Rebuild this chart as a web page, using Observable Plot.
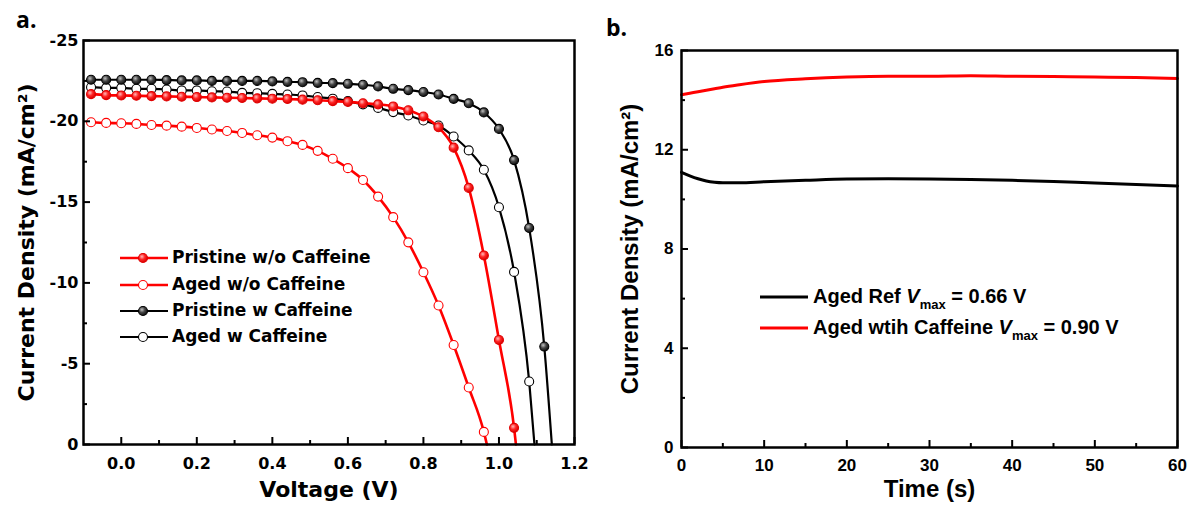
<!DOCTYPE html>
<html><head><meta charset="utf-8">
<script src="https://cdn.jsdelivr.net/npm/d3@7"></script>
<script src="https://cdn.jsdelivr.net/npm/@observablehq/plot@0.6"></script>
<style>
html,body{margin:0;padding:0;background:#fff;}
#wrap{position:relative;width:1188px;height:506px;overflow:hidden;background:#fff;}
.panel{position:absolute;top:0;}
.tag{position:absolute;font-family:"Open Sans",sans-serif;font-weight:700;font-size:23px;line-height:1;color:#000;}
.legend{position:absolute;color:#000;}
.row{display:flex;align-items:center;white-space:nowrap;}
.row svg{flex:none;}
</style></head><body><div id="wrap"></div>
<script>
// ---------- Panel a data ----------
const volts = [-0.08,-0.04,0,0.04,0.08,0.12,0.16,0.2,0.24,0.28,0.32,0.36,0.4,0.44,0.48,0.52,0.56,0.6,0.64,0.68,0.72,0.76,0.8,0.84,0.88,0.92,0.96,1.0,1.04,1.08,1.12];
const seriesA = ["Pristine w/o Caffeine","Aged w/o Caffeine","Pristine w Caffeine","Aged w Caffeine"];
const jPristineNo = [-21.68,-21.62,-21.6,-21.58,-21.56,-21.54,-21.52,-21.5,-21.48,-21.46,-21.44,-21.42,-21.4,-21.38,-21.34,-21.3,-21.25,-21.2,-21.12,-21.05,-20.92,-20.68,-20.3,-19.63,-18.37,-15.88,-11.7,-6.47,-1.03];
const jAgedNo = [-19.94,-19.9,-19.88,-19.84,-19.77,-19.73,-19.67,-19.59,-19.49,-19.4,-19.28,-19.14,-18.99,-18.77,-18.54,-18.17,-17.68,-17.1,-16.37,-15.34,-14.07,-12.51,-10.66,-8.6,-6.16,-3.53,-0.78];
const jPristineW = [-22.57,-22.57,-22.57,-22.57,-22.57,-22.55,-22.53,-22.53,-22.5,-22.5,-22.5,-22.5,-22.47,-22.44,-22.42,-22.38,-22.36,-22.32,-22.26,-22.16,-22.01,-21.93,-21.81,-21.66,-21.39,-21.12,-20.55,-19.53,-17.6,-13.4,-6.06];
const jAgedW = [-22.11,-22.07,-22.07,-22.01,-22.01,-21.97,-21.91,-21.91,-21.86,-21.84,-21.76,-21.74,-21.7,-21.66,-21.6,-21.5,-21.4,-21.25,-21.05,-20.83,-20.57,-20.36,-20.05,-19.74,-19.06,-18.2,-17.0,-14.68,-10.68,-3.9];
const vocA = [1.045, 0.968, 1.14, 1.094];
const xTicksA = [0,0.2,0.4,0.6,0.8,1.0,1.2];
const xMinorA = [0.1,0.3,0.5,0.7,0.9,1.1];
const yTicksA = [0,-5,-10,-15,-20,-25];
const yMinorA = [-2.5,-7.5,-12.5,-17.5,-22.5];
const titleXA = "Voltage (V)";
const titleYA = "Current Density (mA/cm²)";

// ---------- Panel b data ----------
const timeB = [0,1,2,3,4,5,7,10,15,20,25,30,35,40,45,50,55,60];
const jRef  = [11.09,10.95,10.83,10.74,10.69,10.67,10.67,10.71,10.77,10.82,10.83,10.82,10.8,10.77,10.72,10.66,10.6,10.54];
const jCaff = [14.22,14.28,14.34,14.4,14.46,14.52,14.62,14.75,14.86,14.93,14.96,14.96,14.98,14.96,14.95,14.93,14.91,14.87];
const seriesB = ["Aged Ref","Aged wtih Caffeine"];
const vmaxB = ["0.66","0.90"];
const xTicksB = [0,10,20,30,40,50,60];
const xMinorB = [5,15,25,35,45,55];
const yTicksB = [0,4,8,12,16];
const yMinorB = [2,6,10,14];
const titleXB = "Time (s)";
const titleYB = "Current Density (mA/cm²)";

// ---------- styles ----------
const styleA = [
  {stroke:"#ff0000", sw:2.6, fill:"url(#gRed)", dot:"#e00000"},
  {stroke:"#ff0000", sw:2.6, fill:"#ffffff", dot:"#ff0000"},
  {stroke:"#000000", sw:2.2, fill:"url(#gBlack)", dot:"#000000"},
  {stroke:"#000000", sw:2.2, fill:"#ffffff", dot:"#000000"}
];
const styleB = [{stroke:"#000000"},{stroke:"#ff0000"}];
const fontA = "'DejaVu Sans', sans-serif";
const fontB = "'Liberation Sans', Arial, sans-serif";
const MAJ = 7, MIN = 4;

const layoutA = {width: 600, height: 506, marginLeft: 83, marginRight: 26, marginTop: 40, marginBottom: 62};
const layoutB = {width: 588, height: 506, marginLeft: 81, marginRight: 11, marginTop: 50, marginBottom: 59};

const wrap = d3.select("#wrap");

// gradient defs (shared by the document)
const defs = wrap.append("svg").attr("width",0).attr("height",0).style("position","absolute").append("defs");
function grad(id, c0, c1, c2){
  const g = defs.append("radialGradient").attr("id",id).attr("cx","0.38").attr("cy","0.35").attr("r","0.65");
  g.append("stop").attr("offset","0").attr("stop-color",c0);
  g.append("stop").attr("offset","0.5").attr("stop-color",c1);
  g.append("stop").attr("offset","1").attr("stop-color",c2);
}
grad("gRed","#ffb8b8","#ff2525","#d80000");
grad("gBlack","#c0c0c0","#454545","#101010");

// inward tick marks: frame-spanning rules inset so only a short piece at the axis remains
function ticksX(vals, size, L){
  const h = L.height - L.marginTop - L.marginBottom;
  return Plot.ruleX(vals, {x: d => d, insetTop: h - size, stroke: "black", strokeWidth: 2});
}
function ticksY(vals, size, L){
  const w = L.width - L.marginLeft - L.marginRight;
  return Plot.ruleY(vals, {y: d => d, insetRight: w - size, stroke: "black", strokeWidth: 2});
}

// ---------- Panel a ----------
const valuesA = [jPristineNo, jAgedNo, jPristineW, jAgedW];
const ptsA = seriesA.map((s,i) => valuesA[i].map((j,k) => ({s, v: volts[k], j})));
const linesA = seriesA.map((s,i) => [...ptsA[i], {s, v: vocA[i], j: 0}]);
const orderA = [3,2,1,0];

const plotA = Plot.plot({
  ...layoutA,
  style: {fontFamily: fontA, background: "transparent", color: "black", overflow: "visible"},
  x: {domain: [-0.1, 1.2]},
  y: {domain: [0, -25]},
  marks: [
    ...orderA.flatMap(i => [
      Plot.line(linesA[i], {x: "v", y: "j", stroke: styleA[i].stroke, strokeWidth: styleA[i].sw, curve: "monotone-x"}),
      Plot.dot(ptsA[i], {x: "v", y: "j", r: 4.5, fill: styleA[i].fill, stroke: styleA[i].dot, strokeWidth: 1.1})
    ]),
    ticksX(xTicksA, MAJ, layoutA), ticksX(xMinorA, MIN, layoutA),
    ticksY(yTicksA, MAJ, layoutA), ticksY(yMinorA, MIN, layoutA),
    Plot.frame({stroke: "black", strokeWidth: 2.5}),
    Plot.axisX(xTicksA, {tickSize: 0, tickPadding: 13, tickFormat: d3.format(".1f"), fontSize: 16, fontWeight: "bold", label: null}),
    Plot.axisY(yTicksA, {tickSize: 0, tickPadding: 5, tickFormat: d => String(d), fontSize: 16, fontWeight: "bold", label: null}),
    Plot.text([titleXA], {text: d => d, frameAnchor: "bottom", textAnchor: "middle", dy: 37, lineAnchor: "top", fontSize: 22, fontWeight: "bold"}),
    Plot.text([titleYA], {text: d => d, frameAnchor: "left", textAnchor: "middle", rotate: -90, dx: -65, lineAnchor: "top", fontSize: 22, fontWeight: "bold"})
  ]
});
wrap.append("div").attr("class","panel").style("left","0px").node().appendChild(plotA);

// ---------- Panel b ----------
const valuesB = [jRef, jCaff];
const ptsB = seriesB.map((s,i) => valuesB[i].map((j,k) => ({s, t: timeB[k], j})));
const plotB = Plot.plot({
  ...layoutB,
  style: {fontFamily: fontB, background: "transparent", color: "black", overflow: "visible"},
  x: {domain: [0, 60]},
  y: {domain: [0, 16]},
  marks: [
    ...ptsB.map((p,i) => Plot.line(p, {x: "t", y: "j", stroke: styleB[i].stroke, strokeWidth: 3, curve: "monotone-x"})),
    ticksX(xTicksB, MAJ, layoutB), ticksX(xMinorB, MIN, layoutB),
    ticksY(yTicksB, MAJ, layoutB), ticksY(yMinorB, MIN, layoutB),
    Plot.frame({stroke: "black", strokeWidth: 2.5}),
    Plot.axisX(xTicksB, {tickSize: 0, tickPadding: 11, tickFormat: d => String(d), fontSize: 17, fontWeight: "bold", label: null}),
    Plot.axisY(yTicksB, {tickSize: 0, tickPadding: 8, tickFormat: d => String(d), fontSize: 17, fontWeight: "bold", label: null}),
    Plot.text([titleXB], {text: d => d, frameAnchor: "bottom", textAnchor: "middle", dy: 32, lineAnchor: "top", fontSize: 24, fontWeight: "bold", letterSpacing: "0.6px"}),
    Plot.text([titleYB], {text: d => d, frameAnchor: "left", textAnchor: "middle", rotate: -90, dx: -61, lineAnchor: "top", fontSize: 24, fontWeight: "bold", letterSpacing: "1px"})
  ]
});
wrap.append("div").attr("class","panel").style("left","600px").node().appendChild(plotB);

// ---------- panel tags ----------
wrap.append("div").attr("class","tag").style("left","16px").style("top","8px").text("a.");
wrap.append("div").attr("class","tag").style("left","606px").style("top","16px").text("b.");

// ---------- legend a ----------
const legA = wrap.append("div").attr("class","legend").style("left","120px").style("top","245px")
  .style("font-family", fontA).style("font-weight","bold").style("font-size","17px");
[0,1,2,3].forEach(i => {
  const row = legA.append("div").attr("class","row").style("height","26.4px");
  const sv = row.append("svg").attr("width",52).attr("height",16);
  sv.append("line").attr("x1",0).attr("x2",48).attr("y1",8).attr("y2",8)
    .attr("stroke",styleA[i].stroke).attr("stroke-width",styleA[i].sw);
  sv.append("circle").attr("cx",23).attr("cy",8).attr("r",4.5)
    .attr("fill",styleA[i].fill).attr("stroke",styleA[i].dot).attr("stroke-width",1.1);
  row.append("span").text(seriesA[i]).style("position","relative").style("top","-1px");
});

// ---------- legend b ----------
const legB = wrap.append("div").attr("class","legend").style("left","760px").style("top","281.5px")
  .style("font-family", fontB).style("font-weight","bold").style("font-size","20px");
[0,1].forEach(i => {
  const row = legB.append("div").attr("class","row").style("height","31px");
  const sv = row.append("svg").attr("width",53).attr("height",10);
  sv.append("line").attr("x1",0).attr("x2",48).attr("y1",5).attr("y2",5)
    .attr("stroke",styleB[i].stroke).attr("stroke-width",3);
  const sp = row.append("span").style("position","relative").style("top","-1px");
  sp.append("span").text(seriesB[i] + " ");
  sp.append("i").text("V");
  sp.append("span").text("max").style("font-size","13px").style("position","relative").style("top","6px");
  sp.append("span").text(" = " + vmaxB[i] + " V");
});
</script>
</body></html>
